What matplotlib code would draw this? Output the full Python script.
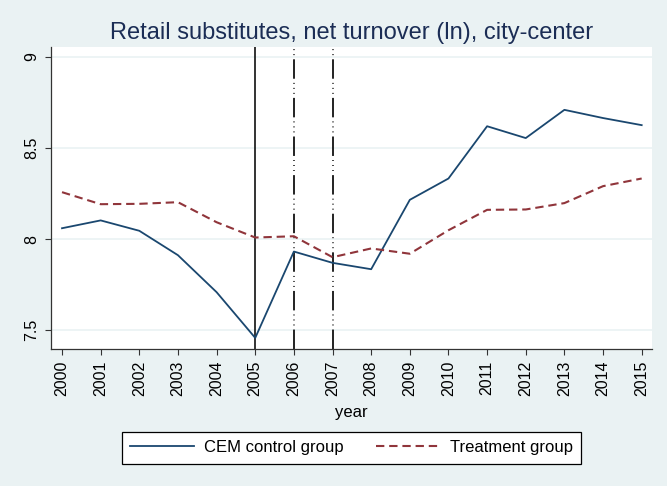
import matplotlib
matplotlib.use("Agg")
import matplotlib.pyplot as plt
from matplotlib.lines import Line2D

plt.rcParams['font.family'] = ['Liberation Sans', 'DejaVu Sans']
plt.rcParams['lines.scale_dashes'] = False

years = list(range(2000, 2016))
cem_control = [8.060, 8.103, 8.046, 7.912, 7.709, 7.458, 7.932, 7.870, 7.835,
               8.216, 8.333, 8.620, 8.555, 8.710, 8.665, 8.626]
treatment = [8.258, 8.192, 8.194, 8.203, 8.093, 8.009, 8.016, 7.901, 7.949,
             7.920, 8.049, 8.161, 8.163, 8.198, 8.291, 8.333]
yticks = [7.5, 8, 8.5, 9]
ytick_labels = ['7.5', '8', '8.5', '9']
event_solid = [2005]
event_dashed = [2006, 2007]

bg = '#EAF2F3'
navy = '#1A476F'
maroon = '#90353B'

fig = plt.figure(figsize=(6.67, 4.86), dpi=100, facecolor=bg)
ax = fig.add_axes([51/667, 1-349/486, 601/667, (349-47)/486])
ax.set_facecolor('white')

for yv in yticks:
    ax.axhline(yv, color=bg, lw=1.2, zorder=0)

for xv in event_solid:
    ax.axvline(xv, color='#111111', lw=1.2, zorder=1)
for xv in event_dashed:
    ax.axvline(xv, color='#111111', lw=1.3, zorder=1,
               linestyle=(0, (14, 3, 0.6, 3, 0.6, 3, 0.6, 3)))

ax.plot(years, cem_control, color=navy, lw=1.3, zorder=3)
ax.plot(years, treatment, color=maroon, lw=1.5, zorder=3,
        linestyle=(0, (6, 3.5)))

ax.set_xlim(1999.715, 2015.267)
ax.set_ylim(7.397, 9.055)
ax.set_xticks(years)
ax.set_xticklabels([str(y) for y in years], rotation=90, fontsize=11.5)
ax.set_yticks(yticks)
ax.set_yticklabels(ytick_labels, rotation=90, va='center', fontsize=11.5)
ax.tick_params(axis='both', direction='out', length=4.5, width=0.8, color='#333333', pad=4)

for s in ['top', 'right']:
    ax.spines[s].set_visible(False)
for s in ['left', 'bottom']:
    ax.spines[s].set_color('#333333')
    ax.spines[s].set_linewidth(0.9)

fig.text(0.527, 1-33/486, 'Retail substitutes, net turnover (ln), city-center',
         ha='center', va='center', fontsize=17, color='#1B2D55')
fig.text(0.527, 1-413/486, 'year', ha='center', va='center', fontsize=12)

handles = [Line2D([], [], color=navy, lw=1.3),
           Line2D([], [], color=maroon, lw=1.5, linestyle=(0, (6, 3.5)))]
leg = fig.legend(handles, ['CEM control group', 'Treatment group'],
                 loc='center', bbox_to_anchor=(0.527, 1-447.7/486), ncol=2,
                 fontsize=12, frameon=True, fancybox=False, edgecolor='black',
                 facecolor='white', framealpha=1.0,
                 handlelength=3.8, handletextpad=0.65, columnspacing=1.9,
                 borderpad=0.5)
leg.get_frame().set_linewidth(0.9)

fig.savefig('out.png', dpi=100, facecolor=bg)
